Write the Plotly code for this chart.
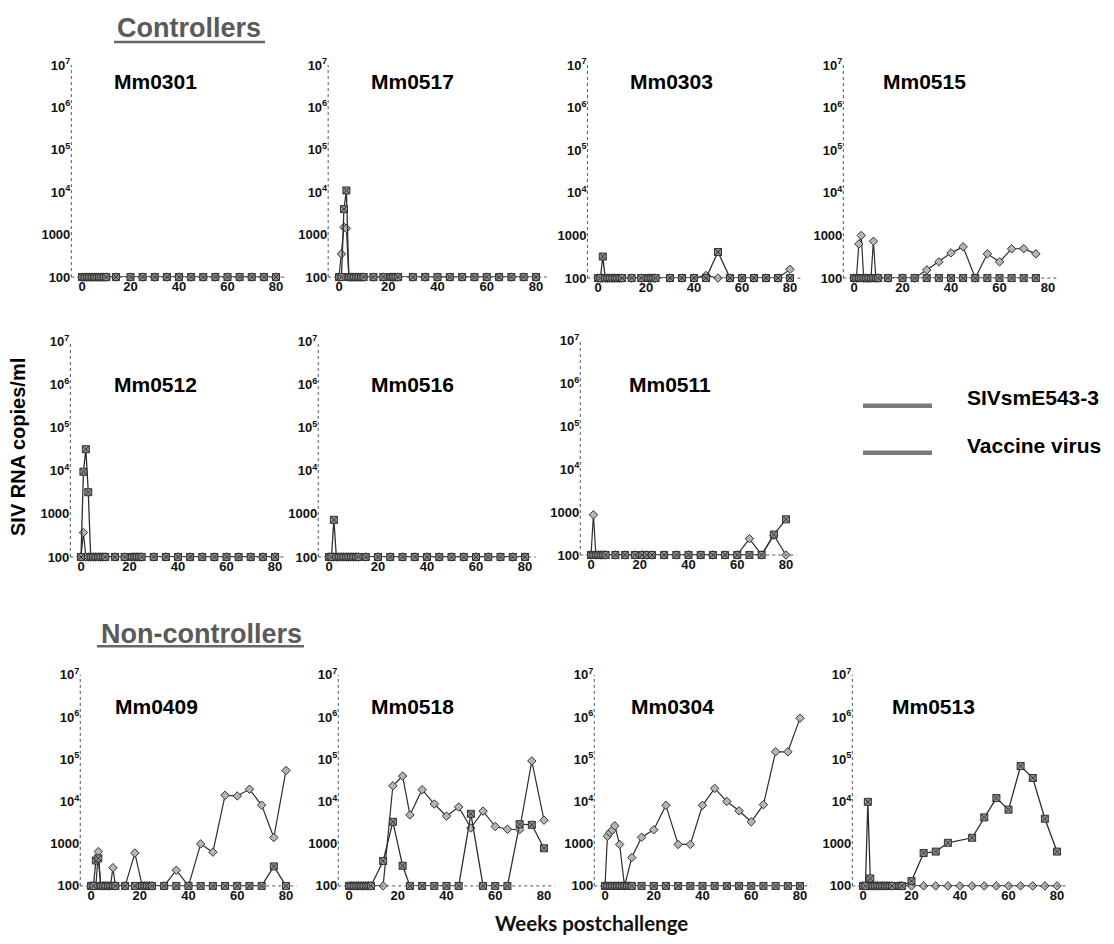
import plotly.graph_objects as go

# ---------------- DATA ----------------
# weeks postchallenge, SIVsmE543-3 and vaccine-virus RNA copies/ml (100 = detection limit)
mm0301_weeks = [0, 1, 2, 3, 4, 5, 6, 7, 8, 9, 10, 14, 20, 25, 30, 35, 40, 45, 50, 55, 60, 65, 70, 75, 80]
mm0301_sive = [100, 100, 100, 100, 100, 100, 100, 100, 100, 100, 100, 100, 100, 100, 100, 100, 100, 100, 100, 100, 100, 100, 100, 100, 100]
mm0301_vacc = [100, 100, 100, 100, 100, 100, 100, 100, 100, 100, 100, 100, 100, 100, 100, 100, 100, 100, 100, 100, 100, 100, 100, 100, 100]

mm0517_weeks = [0, 1, 2, 3, 4, 5, 6, 7, 8, 9, 10, 14, 18, 21, 22, 23, 24, 30, 35, 40, 45, 50, 55, 60, 65, 70, 75, 80]
mm0517_sive = [100, 100, 4000, 11000, 100, 100, 100, 100, 100, 100, 100, 100, 100, 100, 100, 100, 100, 100, 100, 100, 100, 100, 100, 100, 100, 100, 100, 100]
mm0517_vacc = [100, 350, 1500, 1400, 100, 100, 100, 100, 100, 100, 100, 100, 100, 100, 100, 100, 100, 100, 100, 100, 100, 100, 100, 100, 100, 100, 100, 100]

mm0303_weeks = [0, 1, 2, 3, 4, 5, 6, 7, 8, 9, 10, 14, 18, 21, 22, 23, 24, 30, 35, 40, 45, 50, 55, 60, 65, 70, 75, 80]
mm0303_sive = [100, 100, 320, 100, 100, 100, 100, 100, 100, 100, 100, 100, 100, 100, 100, 100, 100, 100, 100, 100, 100, 410, 100, 100, 100, 100, 100, 100]
mm0303_vacc = [100, 100, 100, 100, 100, 100, 100, 100, 100, 100, 100, 100, 100, 100, 100, 100, 100, 100, 100, 100, 115, 100, 100, 100, 100, 100, 100, 160]

mm0515_weeks = [0, 1, 2, 3, 4, 5, 6, 7, 8, 9, 10, 14, 20, 25, 30, 35, 40, 45, 50, 55, 60, 65, 70, 75]
mm0515_sive = [100, 100, 100, 100, 100, 100, 100, 100, 100, 100, 100, 100, 100, 100, 100, 100, 100, 100, 100, 100, 100, 100, 100, 100]
mm0515_vacc = [100, 100, 630, 1000, 100, 100, 100, 100, 730, 100, 100, 100, 100, 100, 155, 240, 390, 540, 100, 370, 240, 485, 490, 370]

mm0512_weeks = [0, 1, 2, 3, 4, 5, 6, 7, 8, 9, 10, 14, 18, 21, 22, 23, 24, 25, 30, 35, 40, 45, 50, 55, 60, 65, 70, 75, 80]
mm0512_sive = [100, 9600, 32000, 3200, 100, 100, 100, 100, 100, 100, 100, 100, 100, 100, 100, 100, 100, 100, 100, 100, 100, 100, 100, 100, 100, 100, 100, 100, 100]
mm0512_vacc = [100, 370, 100, 100, 100, 100, 100, 100, 100, 100, 100, 100, 100, 100, 100, 100, 100, 100, 100, 100, 100, 100, 100, 100, 100, 100, 100, 100, 100]

mm0516_weeks = [0, 1, 2, 3, 4, 5, 6, 7, 8, 9, 10, 11, 12, 15, 20, 25, 30, 35, 40, 45, 50, 55, 60, 65, 70, 75, 80]
mm0516_sive = [100, 100, 730, 100, 100, 100, 100, 100, 100, 100, 100, 100, 100, 100, 100, 100, 100, 100, 100, 100, 100, 100, 100, 100, 100, 100, 100]
mm0516_vacc = [100, 100, 100, 100, 100, 100, 100, 100, 100, 100, 100, 100, 100, 100, 100, 100, 100, 100, 100, 100, 100, 100, 100, 100, 100, 100, 100]

mm0511_weeks = [0, 1, 2, 3, 4, 5, 6, 10, 14, 18, 21, 23, 25, 30, 35, 40, 45, 50, 55, 60, 65, 70, 75, 80]
mm0511_sive = [100, 100, 100, 100, 100, 100, 100, 100, 100, 100, 100, 100, 100, 100, 100, 100, 100, 100, 100, 100, 100, 100, 300, 680]
mm0511_vacc = [100, 870, 100, 100, 100, 100, 100, 100, 100, 100, 100, 100, 100, 100, 100, 100, 100, 100, 100, 100, 240, 100, 290, 100]

mm0409_weeks = [0, 1, 2, 3, 4, 5, 6, 7, 8, 9, 10, 14, 18, 21, 22, 23, 24, 25, 30, 35, 40, 45, 50, 55, 60, 65, 70, 75, 80]
mm0409_sive = [100, 100, 400, 450, 100, 100, 100, 100, 100, 100, 100, 100, 100, 100, 100, 100, 100, 100, 100, 100, 100, 100, 100, 100, 100, 100, 100, 290, 100]
mm0409_vacc = [100, 100, 100, 650, 100, 100, 100, 100, 100, 270, 100, 100, 600, 100, 100, 100, 100, 100, 100, 235, 100, 990, 630, 14000, 13500, 19500, 8200, 1400, 54000]

mm0518_weeks = [0, 1, 2, 3, 4, 5, 6, 7, 8, 9, 14, 18, 22, 25, 30, 35, 40, 45, 50, 55, 60, 65, 70, 75, 80]
mm0518_sive = [100, 100, 100, 100, 100, 100, 100, 100, 100, 100, 390, 3300, 300, 100, 100, 100, 100, 100, 5100, 100, 100, 100, 2900, 2800, 780]
mm0518_vacc = [100, 100, 100, 100, 100, 100, 100, 100, 100, 100, 100, 23500, 40000, 4800, 19000, 8700, 4500, 7400, 2350, 5900, 2550, 2200, 2150, 91000, 3600]

mm0304_weeks = [0, 1, 2, 3, 4, 5, 6, 7, 8, 9, 10, 11, 15, 20, 25, 30, 35, 40, 45, 50, 55, 60, 65, 70, 75, 80]
mm0304_sive = [100, 100, 100, 100, 100, 100, 100, 100, 100, 100, 100, 100, 100, 100, 100, 100, 100, 100, 100, 100, 100, 100, 100, 100, 100, 100]
mm0304_vacc = [100, 1500, 1850, 2100, 2650, None, 960, None, 100, None, None, 470, 1420, 2140, 8100, 960, 960, 8100, 20400, 10000, 6000, 3300, 8400, 150000, 150000, 940000]

mm0513_weeks = [0, 1, 2, 3, 4, 5, 6, 7, 8, 9, 10, 11, 12, 15, 16, 20, 25, 30, 35, 40, 45, 50, 55, 60, 65, 70, 75, 80]
mm0513_sive = [100, 100, 9800, 150, 100, 100, 100, 100, 100, 100, 100, 100, 100, 100, 100, 130, 600, 650, 1050, None, 1380, 4200, 12000, 6400, 69000, 36000, 3900, 650]
mm0513_vacc = [100, 100, 100, 100, 100, 100, 100, 100, 100, 100, 100, 100, 100, 100, 100, 100, 100, 100, 100, 100, 100, 100, 100, 100, 100, 100, 100, 100]

animals = ["Mm0301", "Mm0517", "Mm0303", "Mm0515", "Mm0512", "Mm0516", "Mm0511",
           "Mm0409", "Mm0518", "Mm0304", "Mm0513"]
series = [
    (mm0301_weeks, mm0301_sive, mm0301_vacc),
    (mm0517_weeks, mm0517_sive, mm0517_vacc),
    (mm0303_weeks, mm0303_sive, mm0303_vacc),
    (mm0515_weeks, mm0515_sive, mm0515_vacc),
    (mm0512_weeks, mm0512_sive, mm0512_vacc),
    (mm0516_weeks, mm0516_sive, mm0516_vacc),
    (mm0511_weeks, mm0511_sive, mm0511_vacc),
    (mm0409_weeks, mm0409_sive, mm0409_vacc),
    (mm0518_weeks, mm0518_sive, mm0518_vacc),
    (mm0304_weeks, mm0304_sive, mm0304_vacc),
    (mm0513_weeks, mm0513_sive, mm0513_vacc),
]
legend_names = ["SIVsmE543-3", "Vaccine virus"]
x_ticks = [0, 20, 40, 60, 80]
y_ticks = [100, 1000, 1e4, 1e5, 1e6, 1e7]
y_ticktext = ["100", "1000", "10<sup>4</sup>", "10<sup>5</sup>", "10<sup>6</sup>", "10<sup>7</sup>"]

# ---------------- LAYOUT (pixel positions) ----------------
W, H = 1114, 944
def px(x): return x / W
def py(y): return 1 - y / H

# (pixel of week 0, pixel of week 80), (pixel top=1e7, pixel bottom=100), title centre
panel_pos = [
    ((82, 276), (57, 273), (155, 73.5)),
    ((339, 536), (57, 273), (412, 73.5)),
    ((598, 790), (57, 274), (671, 73.5)),
    ((854, 1048), (57, 274), (924, 73.5)),
    ((81, 275), (339, 558), (155, 382)),
    ((329, 525), (339, 558), (412, 382)),
    ((591, 786), (338, 556), (670, 382)),
    ((91, 286), (678, 893), (156, 710)),
    ((349, 544), (678, 893), (412, 710)),
    ((605, 800), (678, 893), (672, 710)),
    ((863, 1057), (678, 893), (933, 710)),
]
XPAD = 4.4
tick_font = dict(family="Liberation Sans, Arial", size=13, color="#111", weight="bold")
line_col = "#2e2e2e"

fig = go.Figure()
layout = dict(
    width=W, height=H, margin=dict(l=0, r=0, t=0, b=0),
    paper_bgcolor="white", plot_bgcolor="white", showlegend=False,
)
shapes = []
annotations = []

for i, (name, (wk, sive, vacc), (xp, yp, tp)) in enumerate(zip(animals, series, panel_pos)):
    n = i + 1
    sfx = "" if n == 1 else str(n)
    xa, ya = "x" + sfx, "y" + sfx
    s = (xp[1] - xp[0]) / 80.0
    left = xp[0] - XPAD * s
    right = xp[1] + XPAD * s
    layout["xaxis" + sfx] = dict(
        domain=[px(left), px(right)], anchor=ya, range=[-XPAD, 80 + XPAD],
        tickvals=x_ticks, ticks="", showgrid=False, zeroline=False, showline=False,
        tickfont=tick_font, fixedrange=True,
    )
    layout["yaxis" + sfx] = dict(
        domain=[py(yp[1]), py(yp[0])], anchor=xa, type="log", range=[2, 7],
        tickvals=y_ticks, ticktext=y_ticktext, ticks="", showgrid=False,
        zeroline=False, showline=False, tickfont=tick_font, fixedrange=True,
    )
    # dotted axis lines
    shapes.append(dict(type="line", xref=xa + " domain", yref=ya + " domain",
                       x0=0, x1=0, y0=0, y1=1, line=dict(color="#555", width=1, dash="dot")))
    shapes.append(dict(type="line", xref=xa + " domain", yref=ya + " domain",
                       x0=0, x1=1, y0=0, y1=0, line=dict(color="#555", width=1, dash="dot")))
    # vaccine virus (diamonds)
    fig.add_trace(go.Scatter(
        x=wk, y=vacc, xaxis=xa, yaxis=ya, mode="lines+markers", name=legend_names[1],
        connectgaps=True, cliponaxis=False,
        line=dict(color=line_col, width=1.2),
        marker=dict(symbol="diamond", size=6.5, color="#b5b5b5", line=dict(color="#333", width=1)),
    ))
    # SIVsmE543-3 (crossed squares)
    fig.add_trace(go.Scatter(
        x=wk, y=sive, xaxis=xa, yaxis=ya, mode="lines+markers", name=legend_names[0],
        connectgaps=True, cliponaxis=False,
        line=dict(color=line_col, width=1.3),
        marker=dict(symbol="square-x", size=7, color="#8f8f8f", line=dict(color="#333", width=1)),
    ))
    annotations.append(dict(
        text="<b>" + name + "</b>", x=px(tp[0]), y=py(tp[1]), xref="paper", yref="paper",
        showarrow=False, xanchor="center", yanchor="middle",
        font=dict(family="Liberation Sans, Arial", size=21, color="#000"),
    ))

# group headers
header_font = dict(family="Liberation Sans, Arial", size=27, color="#5a5a5a")
annotations.append(dict(text="<b>Controllers</b>", x=px(188.5), y=py(19), xref="paper", yref="paper",
                        showarrow=False, xanchor="center", yanchor="middle", font=header_font))
shapes.append(dict(type="line", xref="paper", yref="paper", x0=px(114), x1=px(265), y0=py(33.5), y1=py(33.5),
                   line=dict(color="#666", width=2.5)))
annotations.append(dict(text="<b>Non-controllers</b>", x=px(201), y=py(636), xref="paper", yref="paper",
                        showarrow=False, xanchor="center", yanchor="middle", font=header_font))
shapes.append(dict(type="line", xref="paper", yref="paper", x0=px(97), x1=px(304), y0=py(649), y1=py(649),
                   line=dict(color="#666", width=2.5)))

# axis titles
annotations.append(dict(text="<b>SIV RNA copies/ml</b>", x=px(18), y=py(446), xref="paper", yref="paper",
                        showarrow=False, textangle=-90, xanchor="center", yanchor="middle",
                        font=dict(family="Liberation Sans, Arial", size=20, color="#000")))
annotations.append(dict(text="<b>Weeks postchallenge</b>", x=px(591), y=py(931), xref="paper", yref="paper",
                        showarrow=False, xanchor="center", yanchor="middle",
                        font=dict(family="Lato, Open Sans", size=20.5, color="#111")))

# legend (drawn bars + labels)
for lab, ybar, ytxt in zip(legend_names, [404, 452], [396, 445]):
    shapes.append(dict(type="line", xref="paper", yref="paper", x0=px(863), x1=px(932),
                       y0=py(ybar), y1=py(ybar), line=dict(color="#7a7a7a", width=4.5)))
    annotations.append(dict(text="<b>" + lab + "</b>", x=px(965), y=py(ytxt), xref="paper", yref="paper",
                            showarrow=False, xanchor="left", yanchor="middle",
                            font=dict(family="Liberation Sans, Arial", size=21, color="#000")))

layout["shapes"] = shapes
layout["annotations"] = annotations
fig.update_layout(**layout)
fig.write_html(
    "out.html",
    config={"displayModeBar": False},
    post_script="document.body.style.margin='0px';document.body.style.overflow='hidden';",
)
